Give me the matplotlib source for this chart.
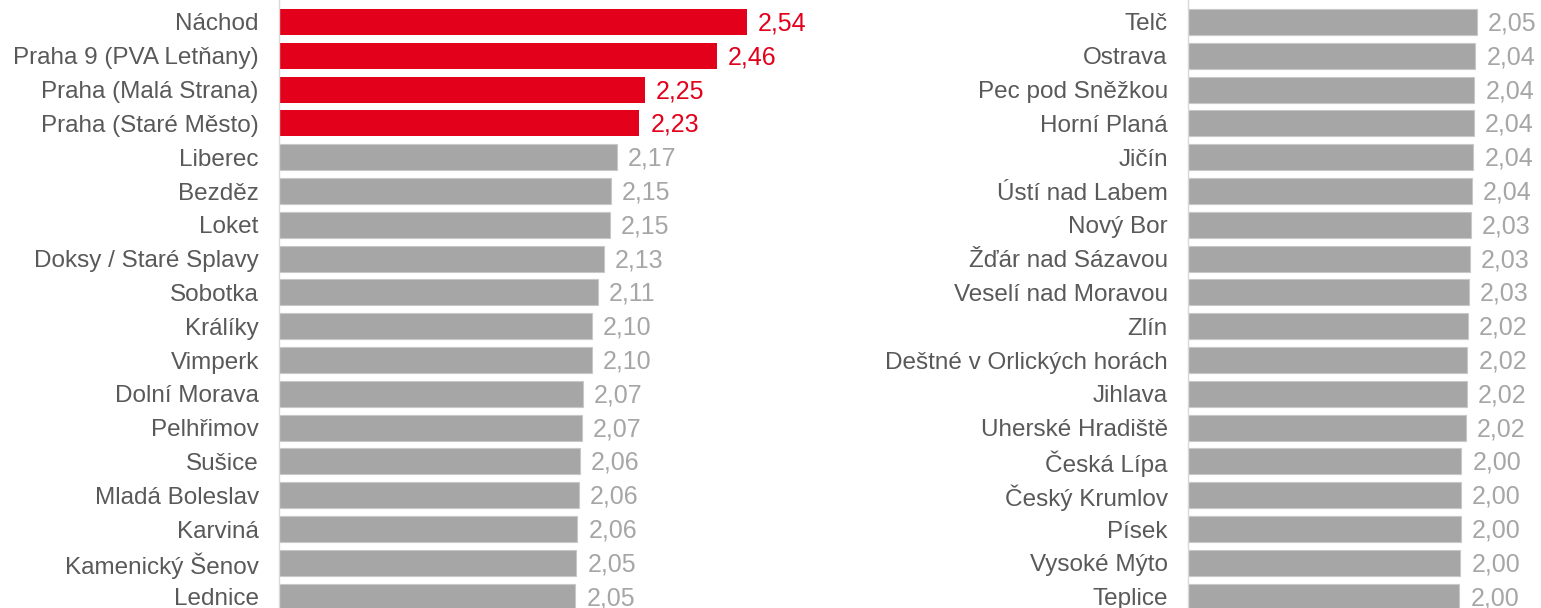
import matplotlib
matplotlib.use("Agg")
import matplotlib.pyplot as plt

plt.rcParams['font.family'] = ['Liberation Sans', 'DejaVu Sans']

left_cats = ["Náchod", "Praha 9 (PVA Letňany)", "Praha (Malá Strana)", "Praha (Staré Město)",
             "Liberec", "Bezděz", "Loket", "Doksy / Staré Splavy", "Sobotka", "Králíky",
             "Vimperk", "Dolní Morava", "Pelhřimov", "Sušice", "Mladá Boleslav", "Karviná",
             "Kamenický Šenov", "Lednice"]
left_vals = [2.543, 2.457, 2.250, 2.234, 2.170, 2.153, 2.149, 2.133, 2.114, 2.098,
             2.097, 2.072, 2.069, 2.064, 2.061, 2.056, 2.053, 2.050]
left_highlight = [True, True, True, True] + [False] * 14

right_cats = ["Telč", "Ostrava", "Pec pod Sněžkou", "Horní Planá", "Jičín", "Ústí nad Labem",
              "Nový Bor", "Žďár nad Sázavou", "Veselí nad Moravou", "Zlín",
              "Deštné v Orlických horách", "Jihlava", "Uherské Hradiště", "Česká Lípa",
              "Český Krumlov", "Písek", "Vysoké Mýto", "Teplice"]
right_vals = [2.050, 2.045, 2.042, 2.040, 2.039, 2.036, 2.032, 2.030, 2.027, 2.024,
              2.022, 2.021, 2.018, 2.004, 2.003, 2.002, 2.001, 1.998]
right_highlight = [False] * 18

RED = "#E3001B"
GRAY = "#A6A6A6"
TXT = "#595959"

W, H = 1541, 608
fig = plt.figure(figsize=(W / 100, H / 100), dpi=100)

row_px = 33.8
top_px = 22.0
y_top = -top_px / row_px
y_bot = (H - top_px) / row_px


def panel(x0_px, x1_px, scale_px, cats, vals, hl):
    ax = fig.add_axes([x0_px / W, 0, (x1_px - x0_px) / W, 1])
    xmin = 1.2
    xmax = xmin + (x1_px - x0_px) / scale_px
    ys = list(range(len(cats)))
    colors = [RED if h else GRAY for h in hl]
    ax.barh(ys, vals, height=0.77, color=colors, edgecolor=["none" if h else "#C8C8C8" for h in hl],
            linewidth=0.8, zorder=2)
    ax.set_xlim(xmin, xmax)
    ax.set_ylim(y_bot, y_top)
    ax.set_yticks(ys)
    ax.set_yticklabels(cats, fontsize=17.5, color=TXT)
    ax.tick_params(axis='y', length=0, pad=14.5)
    ax.set_xticks([])
    for s in ["top", "right", "bottom"]:
        ax.spines[s].set_visible(False)
    ax.spines["left"].set_color("#D9D9D9")
    ax.spines["left"].set_linewidth(1.0)
    ax.patch.set_alpha(0)
    for y, v, h in zip(ys, vals, hl):
        ax.annotate(f"{v:.2f}".replace(".", ","), xy=(v, y), xytext=(11, -1.5),
                    textcoords="offset pixels", va="center", ha="left",
                    fontsize=18, color=RED if h else GRAY)
    return ax


panel(279, 820, 348.6, left_cats, left_vals, left_highlight)
panel(1188, 1541, 340.0, right_cats, right_vals, right_highlight)

fig.savefig("out.png", dpi=100)
